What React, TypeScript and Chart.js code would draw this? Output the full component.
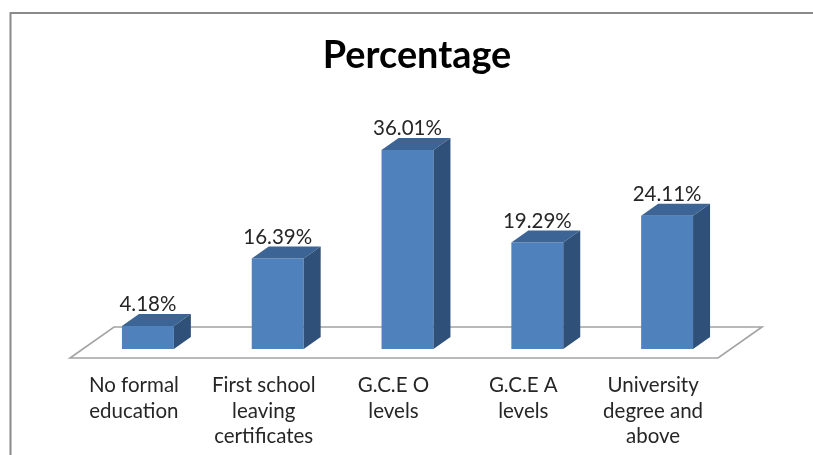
import React, { useEffect, useRef } from "react";
import { Chart, registerables } from "chart.js";

Chart.register(...registerables);

const categories = [
  ["No formal", "education"],
  ["First school", "leaving", "certificates"],
  ["G.C.E O", "levels"],
  ["G.C.E A", "levels"],
  ["University", "degree and", "above"],
];
const percentages = [4.18, 16.39, 36.01, 19.29, 24.11];
const seriesName = "Percentage";

const FONT = "Lato, 'Open Sans', sans-serif";
const DEPTH_X = 17;
const DEPTH_Y = 12;

const frame3d = {
  id: "frame3d",
  beforeDraw(chart: any) {
    const { ctx, width, height } = chart;
    ctx.save();
    ctx.fillStyle = "#ffffff";
    ctx.fillRect(0, 0, width, height);
    ctx.strokeStyle = "#8a8a8a";
    ctx.lineWidth = 2;
    ctx.beginPath();
    ctx.moveTo(10.5, height);
    ctx.lineTo(10.5, 13);
    ctx.lineTo(width, 13);
    ctx.stroke();
    ctx.restore();
  },
  beforeDatasetsDraw(chart: any) {
    const { ctx, scales } = chart;
    const base = scales.y.getPixelForValue(0);
    const l = scales.x.left;
    const r = scales.x.right;
    ctx.save();
    ctx.strokeStyle = "#a3a3a3";
    ctx.lineWidth = 1.6;
    ctx.beginPath();
    ctx.moveTo(l - 13, base + 9);
    ctx.lineTo(r - 14, base + 9);
    ctx.lineTo(r + 30, base - 22);
    ctx.lineTo(l + 31, base - 22);
    ctx.closePath();
    ctx.stroke();
    ctx.restore();
  },
  afterDatasetsDraw(chart: any) {
    const { ctx } = chart;
    const meta = chart.getDatasetMeta(0);
    ctx.save();
    meta.data.forEach((bar: any, i: number) => {
      const half = bar.width / 2;
      const x0 = bar.x - half;
      const x1 = bar.x + half;
      const top = bar.y;
      const bottom = bar.base;
      ctx.fillStyle = "#3c6595";
      ctx.beginPath();
      ctx.moveTo(x0, top);
      ctx.lineTo(x0 + DEPTH_X, top - DEPTH_Y);
      ctx.lineTo(x1 + DEPTH_X, top - DEPTH_Y);
      ctx.lineTo(x1, top);
      ctx.closePath();
      ctx.fill();
      ctx.fillStyle = "#2f5078";
      ctx.beginPath();
      ctx.moveTo(x1, top);
      ctx.lineTo(x1 + DEPTH_X, top - DEPTH_Y);
      ctx.lineTo(x1 + DEPTH_X, bottom - DEPTH_Y);
      ctx.lineTo(x1, bottom);
      ctx.closePath();
      ctx.fill();
      ctx.fillStyle = "#262626";
      ctx.font = `20.5px ${FONT}`;
      ctx.textAlign = "center";
      ctx.textBaseline = "middle";
      ctx.fillText(`${percentages[i].toFixed(2)}%`, bar.x, top - 21.5);
    });
    ctx.restore();
  },
};

export default function App() {
  const ref = useRef<HTMLCanvasElement>(null);
  useEffect(() => {
    const chart = new Chart(ref.current!, {
      type: "bar",
      data: {
        labels: categories as any,
        datasets: [
          {
            label: seriesName,
            data: percentages,
            backgroundColor: "#4f81bd",
            barPercentage: 0.4,
            categoryPercentage: 1,
            yAxisID: "y",
          },
        ],
      },
      options: {
        animation: false,
        responsive: false,
        layout: { padding: { left: 21, right: 0, top: 0, bottom: 0 } },
        plugins: {
          legend: { display: false },
          tooltip: { enabled: false },
          title: {
            display: true,
            text: seriesName,
            color: "#000000",
            font: { family: FONT, size: 37.8, weight: "bold", lineHeight: 1.2 },
            padding: { top: 33, bottom: 49.6 },
          },
        },
        scales: {
          x: {
            grid: { display: false },
            border: { display: false },
            afterFit(scale: any) {
              scale.height = 106;
            },
            ticks: {
              color: "#262626",
              autoSkip: false,
              maxRotation: 0,
              minRotation: 0,
              padding: 16,
              labelOffset: -14,
              font: { family: FONT, size: 20.5, lineHeight: 1.24 },
            },
          },
          y: {
            min: 0,
            max: 40,
            ticks: { display: false },
            grid: { display: false },
            border: { display: false },
            afterFit(scale: any) {
              scale.width = 62;
            },
          },
          y2: {
            position: "right",
            min: 0,
            max: 40,
            ticks: { display: false },
            grid: { display: false },
            border: { display: false },
            afterFit(scale: any) {
              scale.width = 81;
            },
          },
        },
      },
      plugins: [frame3d],
    } as any);
    return () => chart.destroy();
  }, []);
  return (
    <div style={{ position: "fixed", left: 0, top: 0, width: 813, height: 455 }}>
      <canvas ref={ref} width={813} height={455} style={{ display: "block", filter: "blur(0.4px)" }} />
    </div>
  );
}
